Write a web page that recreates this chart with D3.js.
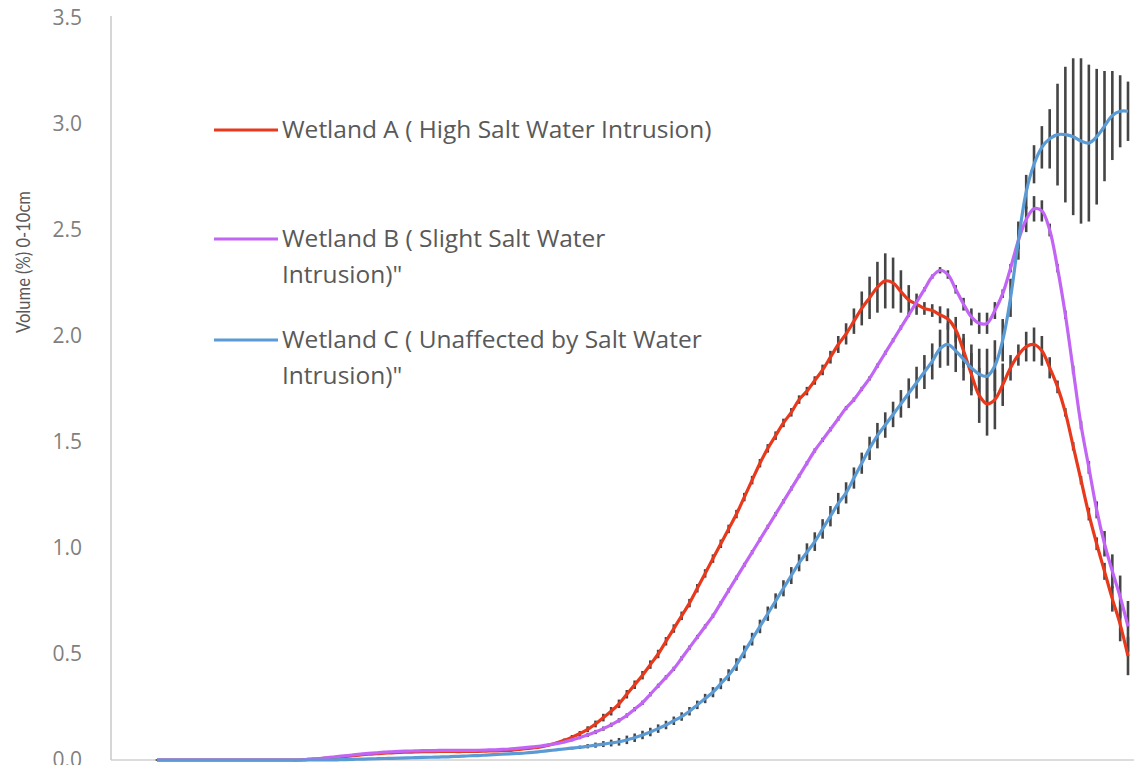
<!DOCTYPE html>
<html>
<head>
<meta charset="utf-8">
<script src="https://cdn.jsdelivr.net/npm/d3@7"></script>
<style>
  html, body { margin: 0; padding: 0; background: #fff; overflow: hidden; }
  svg { display: block; font-family: "Open Sans", Lato, sans-serif; }
</style>
</head>
<body>
<svg id="chart" width="1134" height="765"></svg>
<script>
// values, one per size class (125 classes)
var yTicks = [0, 0.5, 1, 1.5, 2, 2.5, 3, 3.5];
var yTitle = 'Volume (%) 0-10cm';

var legendLabels = [
  ['Wetland A ( High Salt Water Intrusion)'],
  ['Wetland B ( Slight Salt Water', 'Intrusion)"'],
  ['Wetland C ( Unaffected by Salt Water', 'Intrusion)"']
];

var wetlandA = [
  0,0,0,0,0,0,0,0,0,0,
  0,0,0,0,0,0,0,0,0,0.002,
  0.004,0.007,0.010,0.013,0.017,0.020,0.024,0.027,0.030,0.032,
  0.034,0.036,0.037,0.038,0.039,0.039,0.040,0.040,0.040,0.040,
  0.041,0.041,0.042,0.043,0.044,0.045,0.050,0.053,0.057,0.062,
  0.070,0.080,0.093,0.108,0.125,0.145,0.170,0.200,0.230,0.265,
  0.31,0.355,0.40,0.45,0.50,0.56,0.62,0.68,0.74,0.81,
  0.88,0.95,1.02,1.09,1.16,1.24,1.32,1.40,1.47,1.53,
  1.59,1.64,1.70,1.74,1.79,1.84,1.90,1.96,2.01,2.07,
  2.13,2.18,2.23,2.26,2.25,2.21,2.17,2.15,2.13,2.12,
  2.10,2.08,2.03,1.93,1.82,1.72,1.68,1.70,1.77,1.85,
  1.91,1.95,1.96,1.93,1.85,1.76,1.64,1.48,1.32,1.16,
  1.02,0.89,0.76,0.64,0.49
];
var wetlandAErr = [
  0.002,0.002,0.002,0.002,0.002,0.002,0.002,0.002,0.002,0.002,
  0.002,0.002,0.002,0.002,0.002,0.002,0.002,0.002,0.002,0.002,
  0.002,0.002,0.002,0.002,0.002,0.002,0.002,0.002,0.002,0.002,
  0.002,0.002,0.002,0.002,0.002,0.002,0.002,0.002,0.002,0.002,
  0.002,0.002,0.002,0.002,0.002,0.002,0.002,0.002,0.002,0.002,
  0.005,0.006,0.008,0.010,0.012,0.014,0.016,0.018,0.020,0.020,
  0.02,0.02,0.02,0.02,0.02,0.02,0.02,0.02,0.02,0.02,
  0.02,0.02,0.02,0.02,0.02,0.02,0.02,0.02,0.02,0.02,
  0.02,0.02,0.02,0.02,0.02,0.025,0.03,0.04,0.05,0.06,
  0.08,0.10,0.12,0.13,0.12,0.10,0.07,0.05,0.03,0.03,
  0.04,0.05,0.06,0.08,0.10,0.13,0.15,0.14,0.10,0.06,
  0.05,0.07,0.08,0.07,0.05,0.03,0.02,0.02,0.02,0.03,
  0.03,0.04,0.06,0.08,0.09
];

var wetlandB = [
  0,0,0,0,0,0,0,0,0,0,
  0,0,0,0,0,0,0,0,0,0.002,
  0.005,0.008,0.012,0.016,0.020,0.024,0.028,0.031,0.034,0.037,
  0.039,0.041,0.042,0.043,0.044,0.044,0.045,0.045,0.045,0.045,
  0.045,0.046,0.047,0.048,0.050,0.052,0.055,0.058,0.062,0.066,
  0.071,0.077,0.085,0.095,0.106,0.118,0.132,0.148,0.166,0.187,
  0.21,0.24,0.27,0.31,0.35,0.39,0.43,0.48,0.53,0.58,
  0.63,0.68,0.74,0.80,0.86,0.92,0.98,1.04,1.10,1.16,
  1.22,1.28,1.34,1.40,1.46,1.51,1.56,1.61,1.66,1.70,
  1.75,1.80,1.86,1.92,1.98,2.04,2.10,2.16,2.22,2.28,
  2.31,2.29,2.22,2.15,2.09,2.06,2.06,2.12,2.20,2.32,
  2.45,2.55,2.60,2.59,2.50,2.32,2.10,1.84,1.58,1.38,
  1.18,1.02,0.89,0.77,0.63
];
var wetlandBErr = [
  0.002,0.002,0.002,0.002,0.002,0.002,0.002,0.002,0.002,0.002,
  0.002,0.002,0.002,0.002,0.002,0.002,0.002,0.002,0.002,0.002,
  0.002,0.002,0.002,0.002,0.002,0.002,0.002,0.002,0.002,0.002,
  0.002,0.002,0.002,0.002,0.002,0.002,0.002,0.002,0.002,0.002,
  0.002,0.002,0.002,0.002,0.002,0.002,0.002,0.002,0.002,0.002,
  0.004,0.005,0.006,0.007,0.008,0.009,0.01,0.01,0.01,0.01,
  0.01,0.01,0.01,0.01,0.01,0.01,0.01,0.01,0.01,0.01,
  0.01,0.01,0.01,0.01,0.01,0.01,0.01,0.01,0.01,0.01,
  0.01,0.01,0.01,0.01,0.01,0.01,0.01,0.01,0.01,0.01,
  0.01,0.01,0.01,0.01,0.01,0.01,0.01,0.01,0.01,0.01,
  0.015,0.02,0.02,0.03,0.04,0.05,0.05,0.04,0.02,0.02,
  0.04,0.06,0.06,0.05,0.03,0.02,0.02,0.02,0.02,0.03,
  0.04,0.06,0.08,0.10,0.12
];

var wetlandC = [
  0,0,0,0,0,0,0,0,0,0,
  0,0,0,0,0,0,0,0,0,0,
  0,0,0,0.001,0.002,0.003,0.004,0.005,0.006,0.007,
  0.008,0.009,0.010,0.011,0.012,0.013,0.014,0.015,0.017,0.018,
  0.020,0.021,0.023,0.025,0.027,0.029,0.031,0.033,0.036,0.040,
  0.044,0.048,0.052,0.056,0.060,0.065,0.070,0.075,0.080,0.086,
  0.095,0.105,0.118,0.132,0.148,0.165,0.185,0.205,0.23,0.26,
  0.29,0.32,0.36,0.40,0.45,0.51,0.57,0.63,0.69,0.75,
  0.81,0.87,0.93,0.98,1.03,1.09,1.15,1.21,1.26,1.33,
  1.40,1.47,1.53,1.58,1.63,1.68,1.73,1.78,1.83,1.88,
  1.94,1.96,1.93,1.89,1.85,1.82,1.81,1.86,1.98,2.18,
  2.45,2.68,2.81,2.89,2.93,2.95,2.95,2.94,2.92,2.91,
  2.94,2.99,3.04,3.06,3.06
];
var wetlandCErr = [
  0.002,0.002,0.002,0.002,0.002,0.002,0.002,0.002,0.002,0.002,
  0.002,0.002,0.002,0.002,0.002,0.002,0.002,0.002,0.002,0.002,
  0.002,0.002,0.002,0.002,0.002,0.002,0.002,0.002,0.002,0.002,
  0.002,0.002,0.002,0.002,0.002,0.002,0.002,0.002,0.002,0.002,
  0.002,0.002,0.002,0.002,0.002,0.002,0.002,0.002,0.002,0.002,
  0.003,0.004,0.005,0.006,0.008,0.010,0.012,0.014,0.016,0.018,
  0.02,0.02,0.02,0.02,0.02,0.02,0.02,0.02,0.02,0.02,
  0.022,0.024,0.026,0.028,0.03,0.03,0.03,0.032,0.034,0.036,
  0.038,0.04,0.04,0.042,0.044,0.046,0.048,0.05,0.05,0.05,
  0.05,0.055,0.06,0.06,0.06,0.065,0.07,0.075,0.08,0.085,
  0.09,0.10,0.10,0.10,0.11,0.12,0.13,0.12,0.10,0.09,
  0.09,0.08,0.09,0.10,0.14,0.24,0.32,0.37,0.39,0.37,
  0.32,0.26,0.21,0.17,0.14
];

var series = [
  {values: wetlandA, err: wetlandAErr, color: '#e8391d'},
  {values: wetlandB, err: wetlandBErr, color: '#c264f4'},
  {values: wetlandC, err: wetlandCErr, color: '#5b9bd5'}
];

var svg = d3.select('#chart');

var plot = {left: 111, right: 1134, top: 16, bottom: 760};

var x = d3.scaleLinear()
    .domain([0, wetlandA.length - 1])
    .range([157, 1128]);

var y = d3.scaleLinear()
    .domain([0, 3.5])
    .range([plot.bottom, 18]);

// axes: plain gray lines, labels only on y
svg.append('line')
    .attr('x1', plot.left).attr('x2', plot.right)
    .attr('y1', plot.bottom).attr('y2', plot.bottom)
    .attr('stroke', '#d0d0d0').attr('stroke-width', 1.5);

var yAxis = svg.append('g')
    .attr('transform', 'translate(' + plot.left + ',0)')
    .call(d3.axisLeft(y).tickValues(yTicks).tickFormat(d3.format('.1f')).tickSize(0).tickPadding(29));

yAxis.select('.domain')
    .attr('d', 'M0,' + plot.top + 'V' + plot.bottom)
    .attr('stroke', '#c8c8c8').attr('stroke-width', 1.5);
yAxis.selectAll('text')
    .attr('fill', '#7f7f7f')
    .style('font-size', '21px')
    .style('font-family', '"Open Sans", Lato, sans-serif');

// the original title is a narrow face, so keep it to about the same length
svg.append('text')
    .attr('transform', 'translate(30,262) rotate(-90)')
    .attr('text-anchor', 'middle')
    .attr('fill', '#595959')
    .attr('textLength', 142)
    .attr('lengthAdjust', 'spacingAndGlyphs')
    .style('font-family', 'Lato, sans-serif')
    .style('font-size', '19px')
    .text(yTitle);

// error bars under the lines
var bars = svg.append('g');
series.forEach(function(s) {
  bars.selectAll(null)
      .data(s.values)
      .enter().append('line')
        .attr('x1', function(d, i) { return x(i); })
        .attr('x2', function(d, i) { return x(i); })
        .attr('y1', function(d, i) { return y(d - s.err[i]); })
        .attr('y2', function(d, i) { return y(d + s.err[i]); })
        .attr('stroke', '#454545')
        .attr('stroke-width', 2.6);
});

var line = d3.line()
    .x(function(d, i) { return x(i); })
    .y(function(d) { return y(d); })
    .curve(d3.curveCatmullRom);

svg.append('g').selectAll('path')
    .data(series)
    .enter().append('path')
      .attr('d', function(d) { return line(d.values); })
      .attr('fill', 'none')
      .attr('stroke', function(d) { return d.color; })
      .attr('stroke-width', 3.2);

// legend
var legendTop = [130, 239, 340];
var legend = svg.append('g').selectAll('g')
    .data(series)
    .enter().append('g')
      .attr('transform', function(d, i) { return 'translate(214,' + legendTop[i] + ')'; });

legend.append('line')
    .attr('x1', 0).attr('x2', 64)
    .attr('stroke', function(d) { return d.color; })
    .attr('stroke-width', 3.2);

legend.append('text')
    .attr('fill', '#595959')
    .style('font-size', '24.5px')
    .selectAll('tspan')
    .data(function(d, i) { return legendLabels[i]; })
    .enter().append('tspan')
      .attr('x', 68)
      .attr('y', function(d, j) { return 8 + j * 36; })
      .text(function(d) { return d; });
</script>
</body>
</html>
